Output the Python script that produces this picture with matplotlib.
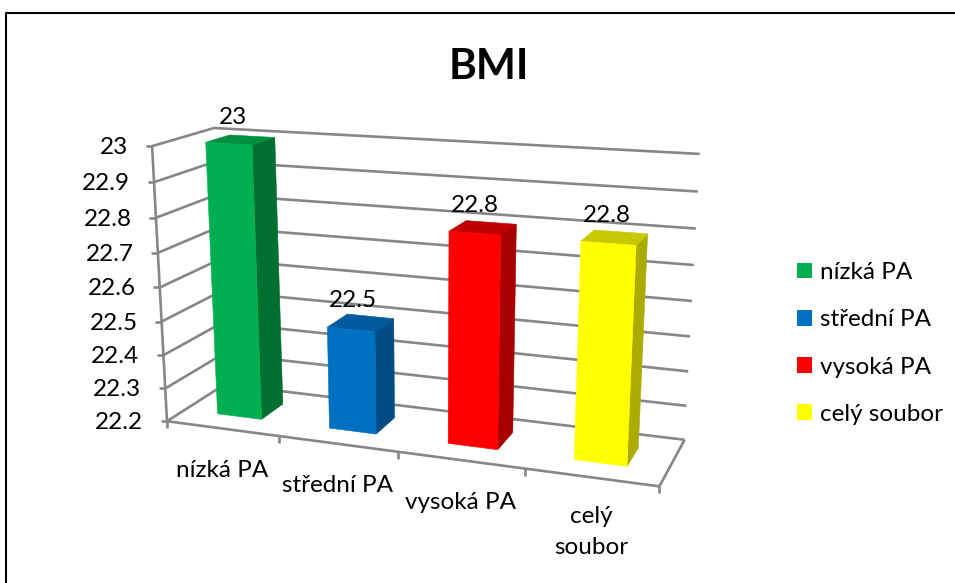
import numpy as np
import matplotlib
matplotlib.use("Agg")
import matplotlib.pyplot as plt
from matplotlib.patches import Patch, Polygon

plt.rcParams["font.family"] = ["Lato", "DejaVu Sans"]

# Chart data
categories = ["nízká PA", "střední PA", "vysoká PA", "celý\nsoubor"]
legend_labels = ["nízká PA", "střední PA", "vysoká PA", "celý soubor"]
bmi_values = [23.0, 22.5, 22.8, 22.8]
value_labels = ["23", "22.5", "22.8", "22.8"]
value_ticks = [22.2, 22.3, 22.4, 22.5, 22.6, 22.7, 22.8, 22.9, 23.0]
tick_labels = ["22.2", "22.3", "22.4", "22.5", "22.6", "22.7", "22.8", "22.9", "23"]

# Face colours: front, side, top
front_colors = ["#00B050", "#0070C0", "#FF0000", "#FFFF00"]
side_colors = ["#007030", "#004C84", "#A60000", "#ABAB00"]
top_colors = ["#008F40", "#005B9E", "#C00000", "#C8C800"]

GRID = "#868686"
TEXT_SIZE = 17.5
Z_MIN, Z_MAX = 22.2, 23.0
N = len(categories)


def fit_camera(world, pixels):
    """Direct linear transform from box coordinates to figure pixels."""
    rows = []
    for (x, d, z), (u, v) in zip(world, pixels):
        p = [x, d, z, 1.0]
        rows.append(p + [0, 0, 0, 0] + [-u * c for c in p])
        rows.append([0, 0, 0, 0] + p + [-v * c for c in p])
    return np.linalg.svd(np.array(rows))[2][-1].reshape(3, 4)


# Calibration of the 3D box: (category position, depth 0 front..1 back, value) -> pixel
box_world = [
    (0, 0, 23.0), (0, 0, 22.8), (0, 0, 22.5), (0, 0, 22.2),
    (0, 1, 23.0), (0, 1, 22.2),
    (4, 1, 23.0), (4, 1, 22.8), (4, 1, 22.5), (4, 1, 22.2),
    (4, 0, 22.2), (1, 0, 22.2), (2, 0, 22.2), (3, 0, 22.2),
]
box_pixels = [
    (152.7, 146), (156.5, 216.7), (160.7, 320.7), (167.7, 421),
    (213, 129), (225, 384),
    (700, 154), (696, 229), (690, 336), (685, 439),
    (659, 485), (279, 437), (398, 453), (524, 470),
]
world_scaled = [(x, d, (z - Z_MIN) * 5) for x, d, z in box_world]
CAMERA = fit_camera(world_scaled, box_pixels)


def project(x, d, z):
    h = CAMERA @ np.array([x, d, (z - Z_MIN) * 5, 1.0])
    return h[0] / h[2], h[1] / h[2]


fig = plt.figure(figsize=(9.55, 5.83), dpi=100)
ax = fig.add_axes([0, 0, 1, 1])
ax.set_xlim(0, 955)
ax.set_ylim(583, 0)
ax.axis("off")


def line(points, color=GRID, lw=1.9, z=1):
    xs, ys = zip(*points)
    ax.plot(xs, ys, color=color, lw=lw, zorder=z, solid_capstyle="butt")


# Outer chart frame, open towards the right and bottom edges
ax.plot([6, 6, 955], [583, 13, 13], color="black", lw=1.5, zorder=0)

# Gridlines on the side wall and back wall, with tick stubs
for tick, label in zip(value_ticks, tick_labels):
    front = project(0, 0, tick)
    back = project(0, 1, tick)
    right = project(N, 1, tick)
    line([front, back, right])
    line([(front[0] - 6.5, front[1]), front])
    ax.text(front[0] - 24, front[1] + 1.5, label, ha="right", va="center",
            fontsize=TEXT_SIZE, color="black")

# Floor outline and category ticks
line([project(0, 0, Z_MIN), project(0, 0, Z_MAX)])
line([project(0, 0, Z_MIN), project(N, 0, Z_MIN), project(N, 1, Z_MIN)])
for i in range(N + 1):
    fx, fy = project(i, 0, Z_MIN)
    line([(fx, fy), (fx, fy + 7)])

# Bars: gap width and gap depth of 150 % leave a 0.4 wide column
for i, value in enumerate(bmi_values):
    x0, x1 = i + 0.3, i + 0.7
    d0, d1 = 0.3, 0.7
    faces = [
        ([(x1, d0, Z_MIN), (x1, d1, Z_MIN), (x1, d1, value), (x1, d0, value)], side_colors[i]),
        ([(x0, d0, value), (x1, d0, value), (x1, d1, value), (x0, d1, value)], top_colors[i]),
        ([(x0, d0, Z_MIN), (x1, d0, Z_MIN), (x1, d0, value), (x0, d0, value)], front_colors[i]),
    ]
    for corners, color in faces:
        ax.add_patch(Polygon([project(*c) for c in corners], closed=True, facecolor=color,
                             edgecolor=color, lw=0.4, zorder=3))
    cx, cy = project(i + 0.5, 0.5, value)
    ax.text(cx - 8, cy - 22, value_labels[i], ha="center", va="center",
            fontsize=TEXT_SIZE, color="black", zorder=4)

# Category labels below the floor
for i, name in enumerate(categories):
    cx, cy = project(i + 0.5, 0, Z_MIN)
    offset = 55 if "\n" in name else 42
    ax.text(cx, cy + offset, name, ha="center", va="center", fontsize=TEXT_SIZE,
            color="black", linespacing=1.6)

ax.text(489, 67, "BMI", ha="center", va="center", fontsize=30.5, fontweight="bold", color="black")

handles = [Patch(facecolor=c, edgecolor="none") for c in front_colors]
ax.legend(handles, legend_labels, loc="upper left", bbox_to_anchor=(797, 262),
          bbox_transform=ax.transData, frameon=False, fontsize=TEXT_SIZE,
          handlelength=0.62, handleheight=0.62, handletextpad=0.33,
          labelspacing=1.08, borderpad=0, borderaxespad=0)

fig.savefig("out.png", dpi=100)
